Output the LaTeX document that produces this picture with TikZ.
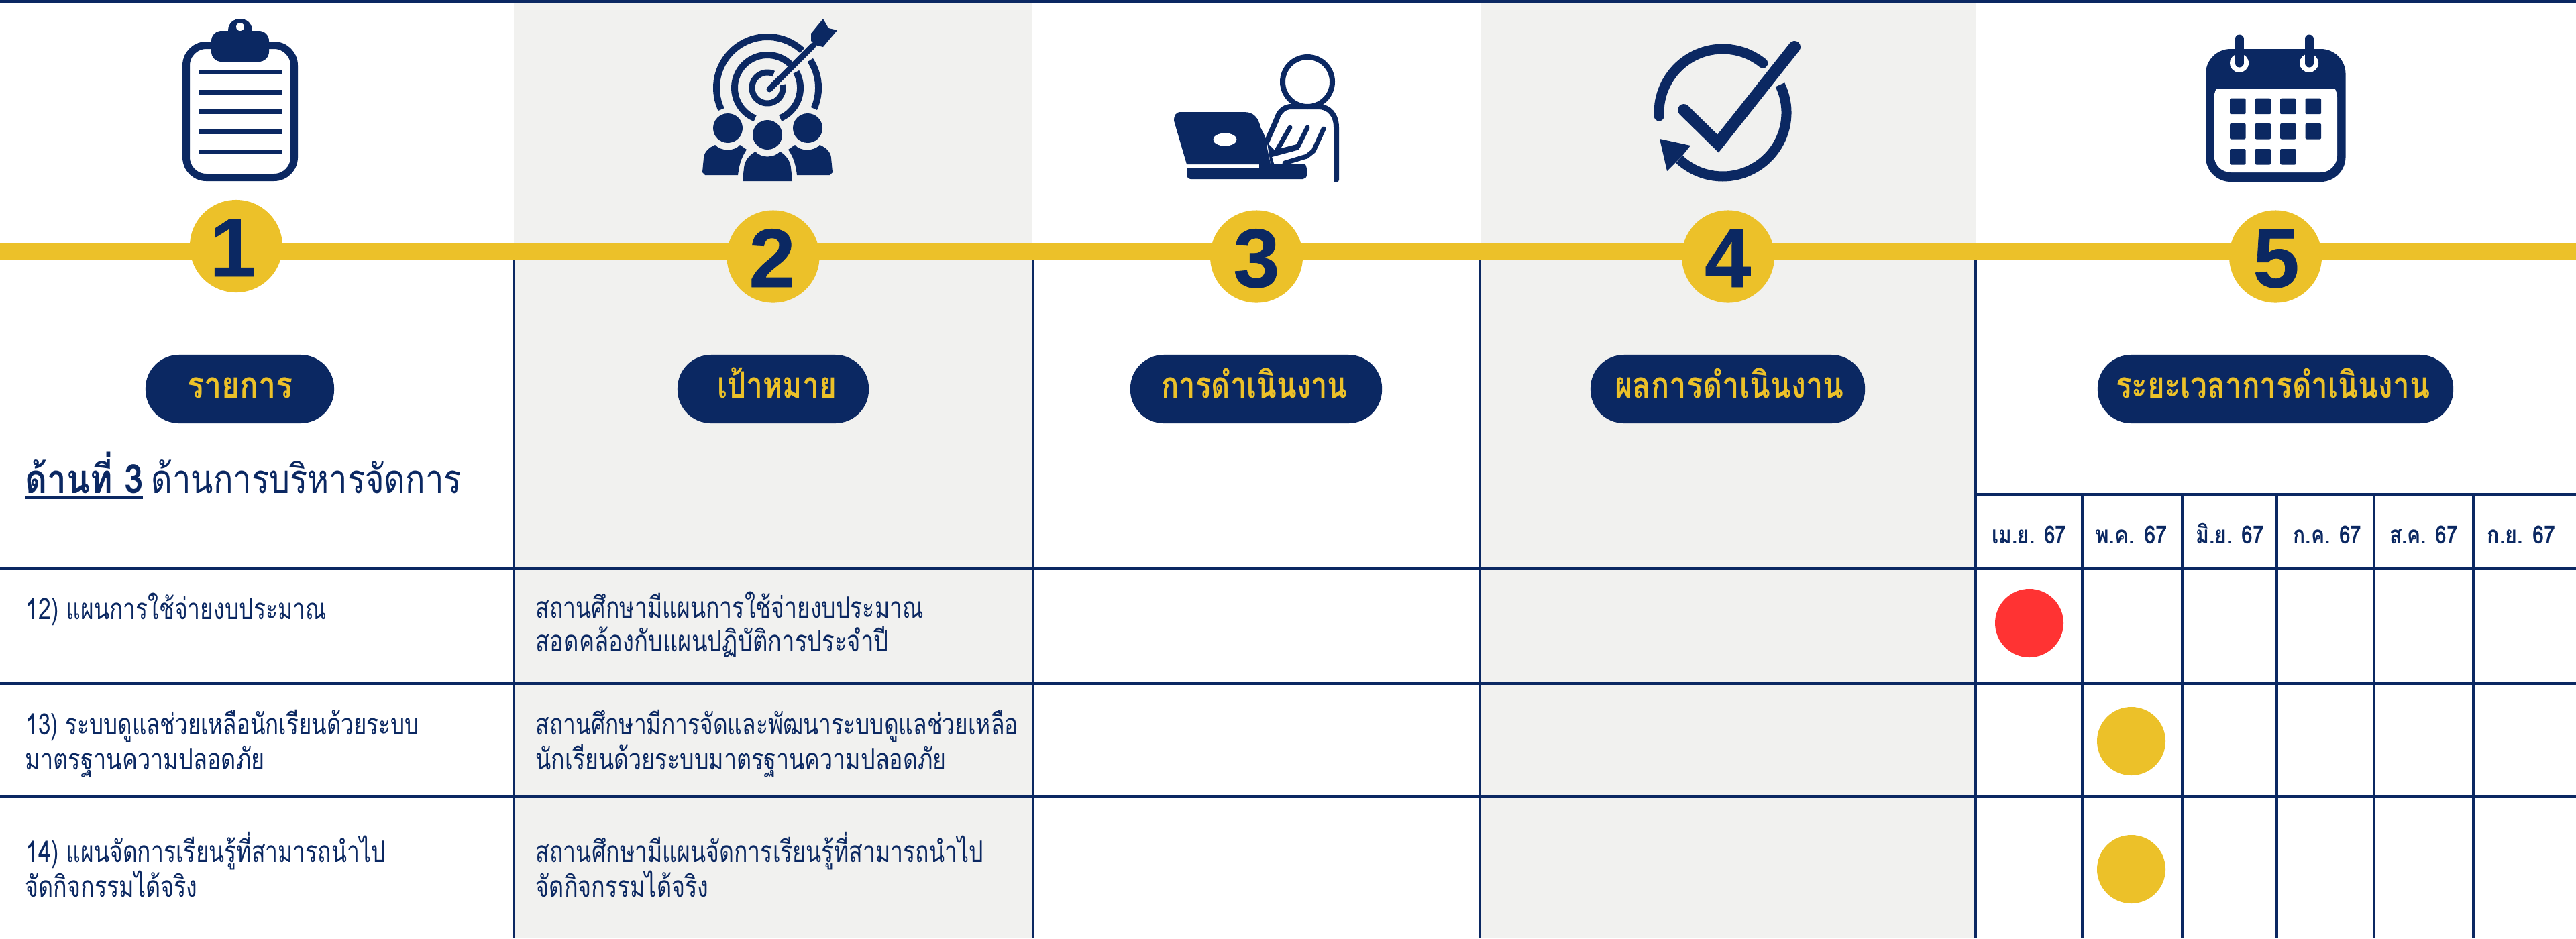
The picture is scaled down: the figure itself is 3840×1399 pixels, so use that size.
\documentclass[tikz,border=0pt]{standalone}
\usepackage{graphicx}
\usepackage{fontspec}
\newfontfamily\thaifont[Script=Thai]{Loma}
\newfontfamily\digitfont[BoldFeatures={FakeBold=0.6}]{Liberation Sans}
\definecolor{navy}{HTML}{0B2862}
\definecolor{gold}{HTML}{ECC129}
\definecolor{paper}{HTML}{F1F1EF}
\definecolor{dotred}{HTML}{FF3333}
\newlength\pxu
\setlength\pxu{0.01cm}
\newcommand\fitw[2]{\resizebox{#1\pxu}{\height}{#2}}
\newcommand\ringpart[6]{\draw[navy,line width=#6\pxu] plot[domain=#4:#5,samples=60] ({#1+#3*cos(\x)},{#2+#3*sin(\x)});}
\tikzset{
  gridline/.style={draw=navy,line width=4\pxu},
  numdot/.style={circle,fill=gold,minimum size=1.38cm,inner sep=0},
  numtext/.style={anchor=base,text=navy,inner sep=0,font=\digitfont\bfseries\fontsize{35.3}{36}\selectfont},
  pill/.style={fill=navy,rounded corners=0.5cm,minimum height=1.02cm,inner sep=0},
  pilltext/.style={anchor=base,text=gold,inner sep=0,font=\thaifont\bfseries\fontsize{15.5}{18}\selectfont},
  rowtext/.style={anchor=base west,text=navy,inner sep=0,font=\thaifont\fontsize{12.5}{16}\selectfont},
  headtext/.style={anchor=base west,text=navy,inner sep=0,font=\thaifont\fontsize{17}{20}\selectfont},
  monthtext/.style={anchor=base,text=navy,inner sep=0,font=\thaifont\bfseries\fontsize{10.5}{14}\selectfont},
  statdot/.style={circle,minimum size=1.02cm,inner sep=0},
}
\begin{document}
\begin{tikzpicture}[x=0.01cm,y=-0.01cm]
\useasboundingbox (0,0) rectangle (3840,1399);
% backgrounds
\fill[white] (0,0) rectangle (3840,1399);
\fill[paper] (766,4) rectangle (1538,1399);
\fill[paper] (2208,4) rectangle (2945,1399);
\fill[navy] (0,0) rectangle (3840,4);
% grid
\foreach \gx in {766,1540,2206,2945}{\draw[gridline] (\gx,388) -- (\gx,1399);}
\foreach \gy in {847.5,1018.5,1188}{\draw[gridline] (0,\gy) -- (3840,\gy);}
\draw[gridline] (2945,737) -- (3840,737);
\foreach \gx in {3104,3253,3394,3538.5,3686.5}{\draw[gridline] (\gx,737) -- (\gx,1399);}
\draw[navy!60,line width=1\pxu] (0,1398.5) -- (3840,1398.5);
% band
\fill[gold] (0,363) rectangle (3840,387);
% numbered circles
\node[numdot] (c1) at (352,367) {};
\node[numdot] (c2) at (1152.5,382.5) {};
\node[numdot] (c3) at (1873,382.5) {};
\node[numdot] (c4) at (2576,382.5) {};
\node[numdot] (c5) at (3392,382.5) {};
\node[numtext] (n1) at (347,412) {1};
\node[numtext] (n2) at (1151,428) {2};
\node[numtext] (n3) at (1873,428) {3};
\node[numtext] (n4) at (2575.5,428) {4};
\node[numtext] (n5) at (3393,428) {5};
% pills
\node[pill,minimum width=2.81cm] (p1) at (357.5,580) {};
\node[pill,minimum width=2.85cm] (p2) at (1152.5,580) {};
\node[pill,minimum width=3.75cm] (p3) at (1872.5,580) {};
\node[pill,minimum width=4.09cm] (p4) at (2575.5,580) {};
\node[pill,minimum width=5.30cm] (p5) at (3392,580) {};
\node[pilltext] (t1) at (358,593) {\fitw{158}{รายการ}};
\node[pilltext] (t2) at (1158,593) {\fitw{178}{เป้าหมาย}};
\node[pilltext] (t3) at (1870,593) {\fitw{277}{การดำเนินงาน}};
\node[pilltext] (t4) at (2578,593) {\fitw{341}{ผลการดำเนินงาน}};
\node[pilltext] (t5) at (3388,593) {\fitw{468}{ระยะเวลาการดำเนินงาน}};
% heading
\node[headtext] (h1) at (37,735) {\fitw{176}{\bfseries ด้านที่ 3}};
\node[headtext] (h2) at (225,735) {\fitw{462}{ด้านการบริหารจัดการ}};
\draw[navy,line width=4\pxu] (h1.base west) ++(0,6.5) -- ++(176,0);
% rows
\node[rowtext] (r12a) at (38,923) {\fitw{448}{12) แผนการใช้จ่ายงบประมาณ}};
\node[rowtext] (r12b) at (798,921) {\fitw{578}{สถานศึกษามีแผนการใช้จ่ายงบประมาณ}};
\node[rowtext] (r12c) at (798,971) {\fitw{526}{สอดคล้องกับแผนปฏิบัติการประจำปี}};
\node[rowtext] (r13a) at (38,1095) {\fitw{586}{13) ระบบดูแลช่วยเหลือนักเรียนด้วยระบบ}};
\node[rowtext] (r13b) at (37,1147) {\fitw{357}{มาตรฐานความปลอดภัย}};
\node[rowtext] (r13c) at (798,1095) {\fitw{719}{สถานศึกษามีการจัดและพัฒนาระบบดูแลช่วยเหลือ}};
\node[rowtext] (r13d) at (798,1147) {\fitw{612}{นักเรียนด้วยระบบมาตรฐานความปลอดภัย}};
\node[rowtext] (r14a) at (38,1285.5) {\fitw{536}{14) แผนจัดการเรียนรู้ที่สามารถนำไป}};
\node[rowtext] (r14b) at (37,1337) {\fitw{257}{จัดกิจกรรมได้จริง}};
\node[rowtext] (r14c) at (798,1285.5) {\fitw{667}{สถานศึกษามีแผนจัดการเรียนรู้ที่สามารถนำไป}};
\node[rowtext] (r14d) at (798,1337) {\fitw{258}{จัดกิจกรรมได้จริง}};
% months
\node[monthtext] (m1) at (3025,810) {\fitw{111}{เม.ย. 67}};
\node[monthtext] (m2) at (3177,810) {\fitw{108}{พ.ค. 67}};
\node[monthtext] (m3) at (3324,810) {\fitw{102}{มิ.ย. 67}};
\node[monthtext] (m4) at (3469.5,810) {\fitw{102}{ก.ค. 67}};
\node[monthtext] (m5) at (3613,810) {\fitw{102}{ส.ค. 67}};
\node[monthtext] (m6) at (3758.5,810) {\fitw{102}{ก.ย. 67}};
% status dots
\node[statdot,fill=dotred] (d1) at (3025,929) {};
\node[statdot,fill=gold] (d2) at (3177,1105) {};
\node[statdot,fill=gold] (d3) at (3177,1296) {};
% ---- icon 1: clipboard
\draw[navy,line width=11\pxu,rounded corners=0.3cm] (277.5,67.5) rectangle (438.5,264.5);
\fill[navy,rounded corners=0.15cm] (315,46) rectangle (401,92);
\fill[navy] (358,46) -- (340,46) .. controls (340,22) and (376,22) .. (376,46) -- cycle;
\fill[white] (358,40) circle [radius=6];
\foreach \ly in {107,137,166,196,226}{\fill[navy] (296,\ly-3.5) rectangle (420,\ly+3.5);}
% ---- icon 2: target and people
\ringpart{1144}{131}{76}{-33}{24}{10}
\ringpart{1144}{131}{76}{155}{313}{10}
\ringpart{1144}{131}{49}{-29}{67}{10}
\ringpart{1144}{131}{49}{112}{314}{10}
\ringpart{1144}{131}{23}{-12}{294}{9}
\draw[navy,line width=9\pxu,line cap=round] (1147,133) -- (1212,68);
\fill[navy] (1209,50) -- (1227,28) -- (1235,42) -- (1248,45) -- (1227,70) -- (1215,67) -- (1209,61) -- cycle;
\fill[navy] (1085,191) circle [radius=22];
\fill[navy] (1144,201) circle [radius=22];
\fill[navy] (1204,191) circle [radius=22];
\fill[navy] (1066,216) .. controls (1075,226) and (1095,226) .. (1103,216) -- (1113,223) .. controls (1105,235) and (1102,245) .. (1100,261) -- (1051,261) -- (1047,257) -- (1049,235) .. controls (1050,226) and (1057,220) .. (1066,216) -- cycle;
\fill[navy] (1222,216) .. controls (1213,226) and (1193,226) .. (1185,216) -- (1175,223) .. controls (1183,235) and (1186,245) .. (1188,261) -- (1237,261) -- (1241,257) -- (1239,235) .. controls (1238,226) and (1231,220) .. (1222,216) -- cycle;
\fill[navy] (1126,226) .. controls (1135,236) and (1153,236) .. (1163,226) .. controls (1172,232) and (1178,240) .. (1179,250) -- (1181,270) -- (1107,270) -- (1109,250) .. controls (1110,240) and (1116,232) .. (1126,226) -- cycle;
% ---- icon 3: person at laptop
\draw[navy,line width=8\pxu] (1949,122) circle [radius=37];
\draw[navy,line width=8\pxu,line cap=round,line join=round] (1888,212) -- (1903,178) .. controls (1907,165) and (1915,159) .. (1925,159) -- (1965,159) .. controls (1982,159) and (1992,172) .. (1992,190) -- (1992,268);
\fill[navy] (1750,180) .. controls (1750,172) and (1753,167) .. (1760,167) -- (1855,167) .. controls (1868,167) and (1876,175) .. (1879,190) -- (1885,202) -- (1894,245) -- (1769,245) -- cycle;
\fill[white] (1826,208) ellipse [x radius=17.5,y radius=9.5];
\fill[navy] (1889,213) -- (1901,225) -- (1910,221) -- (1933,215) -- (1937,223) -- (1896,234) -- (1899,244) -- (1915,244) -- (1945,244) .. controls (1948,248) and (1948,252) .. (1948,256) -- (1948,260) .. controls (1948,265) and (1945,267) .. (1942,267) -- (1775,267) .. controls (1771,267) and (1769,264) .. (1769,258) -- (1769,251) -- (1877,251) -- (1877,245) -- (1894,245) -- cycle;
\draw[navy,line width=7\pxu,line cap=round,line join=round] (1923,190) -- (1903,225);
\draw[navy,line width=7\pxu,line cap=round,line join=round] (1949,190) -- (1935,218);
\draw[navy,line width=7\pxu,line cap=round,line join=round] (1973,192) -- (1958,225) -- (1948,233) -- (1915,243);
% ---- icon 4: check and cycle
\draw[navy,line width=15\pxu,line cap=round] plot[domain=177:309,samples=50] ({2568+95*cos(\x)},{168+95*sin(\x)});
\ringpart{2568}{168}{95}{-26}{133}{15}
\fill[navy] (2474,207) -- (2520,217) -- (2508,232) -- (2485,255) -- cycle;
\draw[navy,line width=18\pxu,line cap=round,miter limit=10] (2510,164) -- (2561,214) -- (2675,70);
% ---- icon 5: calendar
\fill[navy,rounded corners=0.37cm] (3288,73) rectangle (3496.5,271);
\fill[white,rounded corners=0.25cm] (3300.5,120) rectangle (3484,257);
\fill[navy] (3300.5,120) rectangle (3484,132);
\foreach \cx in {3338,3442}{
  \fill[white] (\cx,94) circle [radius=14];
  \draw[navy,line width=13\pxu,line cap=round] (\cx,58) -- (\cx,94);
}
\foreach \qx in {3324,3361.5,3399,3436.5}{\fill[navy,rounded corners=0.02cm] (\qx,146.7) rectangle ++(23.6,23.5);\fill[navy,rounded corners=0.02cm] (\qx,184) rectangle ++(23.6,23.5);}
\foreach \qx in {3324,3361.5,3399}{\fill[navy,rounded corners=0.02cm] (\qx,222) rectangle ++(23.6,23.5);}
\end{tikzpicture}
\end{document}
